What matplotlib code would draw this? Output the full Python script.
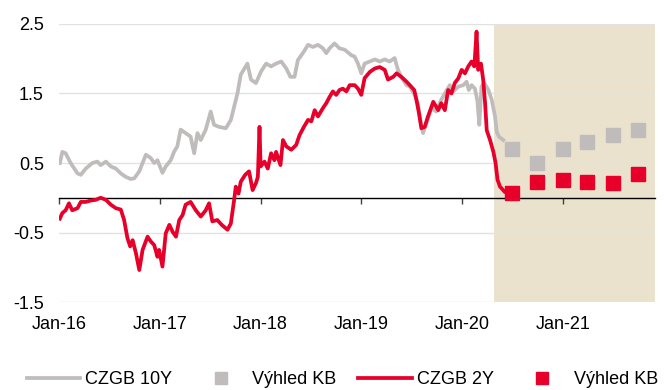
import pandas as pd
import matplotlib
matplotlib.use("Agg")
import matplotlib.pyplot as plt
import matplotlib.dates as mdates

plt.rcParams["font.family"] = ["Liberation Sans", "DejaVu Sans"]

GREY = "#C0BCBB"
RED = "#E6002A"
SHADE = "#EAE2CD"

# CZGB 10Y yield (%)
dates_10y = [
    "2016-01-04", "2016-01-13", "2016-01-25", "2016-02-12", "2016-03-08", "2016-03-20",
    "2016-04-07", "2016-05-01", "2016-05-19", "2016-05-31", "2016-06-19", "2016-07-07",
    "2016-07-25", "2016-08-12", "2016-08-30", "2016-09-17", "2016-09-30", "2016-10-18",
    "2016-11-11", "2016-11-29", "2016-12-11", "2016-12-23", "2017-01-10", "2017-01-22",
    "2017-02-09", "2017-02-21", "2017-03-05", "2017-03-17", "2017-04-04", "2017-04-22",
    "2017-05-05", "2017-05-17", "2017-05-29", "2017-06-16", "2017-07-04", "2017-07-16",
    "2017-08-03", "2017-08-28", "2017-09-15", "2017-09-27", "2017-10-09", "2017-10-21",
    "2017-11-14", "2017-11-27", "2017-12-15", "2018-01-03", "2018-01-21", "2018-02-08",
    "2018-02-26", "2018-03-17", "2018-04-04", "2018-04-19", "2018-05-04", "2018-05-16",
    "2018-06-03", "2018-06-22", "2018-07-10", "2018-07-28", "2018-08-15", "2018-08-27",
    "2018-09-08", "2018-09-26", "2018-10-14", "2018-11-02", "2018-11-26", "2018-12-08",
    "2018-12-20", "2019-01-01", "2019-01-13", "2019-02-01", "2019-02-19", "2019-03-09",
    "2019-03-27", "2019-04-14", "2019-05-02", "2019-05-14", "2019-05-26", "2019-06-14",
    "2019-06-26", "2019-07-14", "2019-07-26", "2019-08-07", "2019-08-13", "2019-08-25",
    "2019-09-12", "2019-09-30", "2019-10-18", "2019-10-31", "2019-11-18", "2019-12-01",
    "2019-12-19", "2020-01-06", "2020-01-18", "2020-01-26", "2020-02-05", "2020-02-17",
    "2020-02-26", "2020-03-04", "2020-03-12", "2020-03-22", "2020-04-06", "2020-04-18",
    "2020-04-30", "2020-05-06", "2020-05-14", "2020-05-30",
]
yield_10y = [
    0.50, 0.66, 0.64, 0.50, 0.35, 0.33,
    0.42, 0.50, 0.52, 0.47, 0.52, 0.45,
    0.42, 0.35, 0.30, 0.27, 0.28, 0.38,
    0.62, 0.57, 0.50, 0.54, 0.36, 0.45,
    0.54, 0.66, 0.74, 0.98, 0.93, 0.88,
    0.64, 0.93, 0.83, 0.98, 1.24, 1.05,
    1.02, 1.00, 1.12, 1.31, 1.50, 1.77,
    1.93, 1.70, 1.65, 1.82, 1.93, 1.89,
    1.93, 1.96, 1.86, 1.74, 1.74, 1.98,
    2.08, 2.20, 2.17, 2.20, 2.15, 2.08,
    2.15, 2.22, 2.15, 2.13, 2.05, 2.03,
    1.93, 1.79, 1.93, 1.96, 1.99, 1.96,
    1.99, 1.96, 2.01, 1.84, 1.74, 1.62,
    1.60, 1.48, 1.34, 1.02, 0.93, 1.07,
    1.29, 1.24, 1.41, 1.50, 1.62, 1.53,
    1.60, 1.62, 1.67, 1.55, 1.62, 1.57,
    1.40, 1.05, 1.60, 1.65, 1.55, 1.41,
    1.17, 0.95, 0.88, 0.83,
]

# CZGB 2Y yield (%)
dates_2y = [
    "2016-01-04", "2016-01-13", "2016-01-25", "2016-02-06", "2016-02-18", "2016-03-08",
    "2016-03-20", "2016-04-07", "2016-04-25", "2016-05-13", "2016-05-31", "2016-06-19",
    "2016-07-07", "2016-07-25", "2016-08-12", "2016-08-24", "2016-09-05", "2016-09-15",
    "2016-09-24", "2016-10-06", "2016-10-18", "2016-10-30", "2016-11-17", "2016-11-29",
    "2016-12-11", "2016-12-23", "2016-12-29", "2017-01-10", "2017-01-22", "2017-02-04",
    "2017-02-16", "2017-02-28", "2017-03-12", "2017-03-24", "2017-04-04", "2017-04-22",
    "2017-05-11", "2017-05-29", "2017-06-16", "2017-06-28", "2017-07-10", "2017-07-28",
    "2017-08-13", "2017-09-03", "2017-09-15", "2017-09-27", "2017-10-03", "2017-10-13",
    "2017-10-21", "2017-11-06", "2017-11-20", "2017-12-03", "2017-12-15", "2017-12-22",
    "2017-12-28", "2018-01-01", "2018-01-15", "2018-01-27", "2018-02-08", "2018-02-20",
    "2018-02-26", "2018-03-14", "2018-03-23", "2018-04-04", "2018-04-22", "2018-05-10",
    "2018-05-22", "2018-06-07", "2018-06-22", "2018-07-04", "2018-07-16", "2018-07-28",
    "2018-08-15", "2018-08-27", "2018-09-08", "2018-09-20", "2018-10-02", "2018-10-14",
    "2018-10-26", "2018-11-08", "2018-11-20", "2018-12-08", "2018-12-20", "2019-01-01",
    "2019-01-13", "2019-02-01", "2019-02-19", "2019-03-09", "2019-03-27", "2019-04-08",
    "2019-04-27", "2019-05-09", "2019-05-26", "2019-06-14", "2019-06-26", "2019-07-12",
    "2019-07-20", "2019-07-29", "2019-08-07", "2019-08-19", "2019-08-31", "2019-09-19",
    "2019-10-07", "2019-10-18", "2019-10-31", "2019-11-12", "2019-11-24", "2019-12-06",
    "2019-12-19", "2019-12-31", "2020-01-12", "2020-01-24", "2020-02-05", "2020-02-15",
    "2020-02-23", "2020-02-29", "2020-03-10", "2020-03-18", "2020-03-25", "2020-03-31",
    "2020-04-12", "2020-04-24", "2020-05-02", "2020-05-09", "2020-05-18", "2020-06-03",
]
yield_2y = [
    -0.30, -0.22, -0.18, -0.08, -0.18, -0.15,
    -0.06, -0.06, -0.04, -0.03, 0.00, -0.03,
    -0.10, -0.15, -0.17, -0.32, -0.58, -0.70,
    -0.61, -0.80, -1.04, -0.75, -0.56, -0.63,
    -0.68, -0.85, -0.75, -0.99, -0.51, -0.39,
    -0.49, -0.56, -0.32, -0.25, -0.10, -0.06,
    -0.18, -0.27, -0.18, -0.08, -0.34, -0.32,
    -0.39, -0.46, -0.37, -0.03, 0.16, 0.06,
    0.23, 0.33, 0.38, 0.11, 0.21, 0.30,
    1.02, 0.45, 0.52, 0.42, 0.64, 0.54,
    0.66, 0.47, 0.83, 0.74, 0.69, 0.76,
    0.90, 1.02, 1.12, 1.10, 1.26, 1.17,
    1.29, 1.36, 1.45, 1.53, 1.48, 1.55,
    1.57, 1.53, 1.62, 1.62, 1.57, 1.48,
    1.72, 1.81, 1.86, 1.88, 1.84, 1.70,
    1.74, 1.79, 1.74, 1.67, 1.62, 1.55,
    1.41, 1.22, 1.00, 1.02, 1.17, 1.38,
    1.26, 1.36, 1.26, 1.55, 1.50, 1.65,
    1.72, 1.84, 1.79, 1.89, 1.96, 1.89,
    2.39, 1.84, 1.93, 1.70, 1.36, 0.97,
    0.83, 0.66, 0.50, 0.26, 0.16, 0.09,
]

# KB quarterly outlook
outlook_dates = ["2020-06-30", "2020-09-30", "2020-12-31", "2021-03-31", "2021-06-30", "2021-09-30"]
outlook_10y = [0.70, 0.50, 0.70, 0.80, 0.90, 0.97]
outlook_2y = [0.07, 0.22, 0.25, 0.22, 0.21, 0.34]

forecast_start = "2020-04-28"
x_start, x_end = "2016-01-01", "2021-12-01"
year_ticks = ["2016-01-01", "2017-01-01", "2018-01-01", "2019-01-01", "2020-01-01", "2021-01-01"]
y_ticks = [2.5, 1.5, 0.5, -0.5, -1.5]

to_dt = pd.to_datetime

fig = plt.figure(figsize=(6.64, 3.90), dpi=100)
ax = fig.add_axes([0.0889, 0.2256, 0.8975, 0.7129])

ax.axvspan(to_dt(forecast_start), to_dt(x_end), color=SHADE, lw=0, zorder=0)

l10, = ax.plot(to_dt(dates_10y), yield_10y, color=GREY, lw=2.7, zorder=3,
               solid_joinstyle="round", label="CZGB 10Y")
s10, = ax.plot(to_dt(outlook_dates), outlook_10y, ls="none", marker="s", ms=10,
               color=GREY, zorder=4, label="Výhled KB")
l2, = ax.plot(to_dt(dates_2y), yield_2y, color=RED, lw=2.7, zorder=5,
              solid_joinstyle="round", label="CZGB 2Y")
s2, = ax.plot(to_dt(outlook_dates), outlook_2y, ls="none", marker="s", ms=10,
              color=RED, zorder=6, label="Výhled KB")

ymin, ymax = -1.5, 2.5
ax.set_ylim(ymin, ymax)
ax.set_xlim(to_dt(x_start), to_dt(x_end))
ax.set_yticks(y_ticks)
ax.set_yticklabels([f"{v:.1f}" for v in y_ticks])
ax.set_xticks(to_dt(year_ticks))
ax.xaxis.set_major_formatter(mdates.DateFormatter("%b-%y"))

ax.set_axisbelow(True)
ax.yaxis.grid(True, color="#E2E2E2", lw=1)
for side in ax.spines.values():
    side.set_visible(False)
ax.tick_params(axis="x", length=0, pad=10, labelsize=13)
ax.tick_params(axis="y", length=0, pad=11, labelsize=13)

# zero line with year ticks hanging below it
zero_axis = ax.secondary_xaxis((0 - ymin) / (ymax - ymin))
zero_axis.set_xticks(to_dt(year_ticks))
zero_axis.tick_params(length=4, width=1, color="#404040", labelbottom=False, labeltop=False)
zero_axis.spines["bottom"].set_color("black")
zero_axis.spines["bottom"].set_linewidth(1)

fig.legend([l10, s10, l2, s2], ["CZGB 10Y", "Výhled KB", "CZGB 2Y", "Výhled KB"],
           loc="center left", bbox_to_anchor=(27 / 664, 1 - 380 / 390), ncol=4,
           frameon=False, fontsize=13, handlelength=2.95, handletextpad=0.28,
           columnspacing=1.2, borderpad=0, borderaxespad=0, markerscale=0.86)

fig.savefig("out.png", dpi=100)
